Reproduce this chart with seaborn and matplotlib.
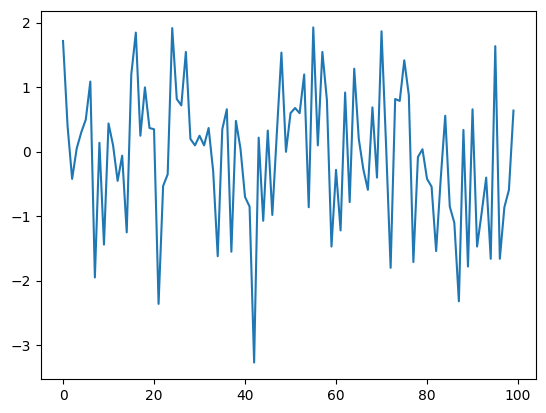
import numpy as np
import pandas as pd
import seaborn as sns
import matplotlib
matplotlib.use('Agg')
import matplotlib.pyplot as plt

# values
x_index = list(range(100))
y_values = [
    1.72, 0.40, -0.42, 0.05, 0.30, 0.50, 1.09, -1.95, 0.14, -1.44,
    0.44, 0.10, -0.45, -0.06, -1.25, 1.20, 1.85, 0.25, 1.00, 0.37,
    0.35, -2.36, -0.53, -0.35, 1.92, 0.82, 0.72, 1.55, 0.20, 0.10,
    0.25, 0.10, 0.37, -0.30, -1.62, 0.35, 0.66, -1.55, 0.48, 0.05,
    -0.70, -0.85, -3.27, 0.22, -1.07, 0.33, -0.98, 0.30, 1.54, 0.00,
    0.60, 0.68, 0.60, 1.20, -0.86, 1.93, 0.10, 1.55, 0.80, -1.47,
    -0.28, -1.22, 0.92, -0.78, 1.29, 0.20, -0.27, -0.59, 0.69, -0.40,
    1.87, 0.10, -1.80, 0.82, 0.79, 1.42, 0.88, -1.71, -0.08, 0.04,
    -0.42, -0.54, -1.54, -0.43, 0.56, -0.85, -1.10, -2.32, 0.34, -1.78,
    0.66, -1.47, -0.95, -0.40, -1.66, 1.64, -1.66, -0.86, -0.59, 0.64,
]

df = pd.DataFrame({'x': x_index, 'y': y_values})

fig, ax = plt.subplots(1, 1, figsize=(5.46, 4.13), dpi=100)
# axes box placed as in the reference
plt.subplots_adjust(left=40.5/546, right=536/546, top=1-10.7/413, bottom=1-379.3/413)
sns.lineplot(data=df, x='x', y='y', ax=ax, color='#1f77b4', linewidth=1.5)
ax.set_xlabel('')
ax.set_ylabel('')

plt.savefig('out.png', dpi=100)
plt.close(fig)
